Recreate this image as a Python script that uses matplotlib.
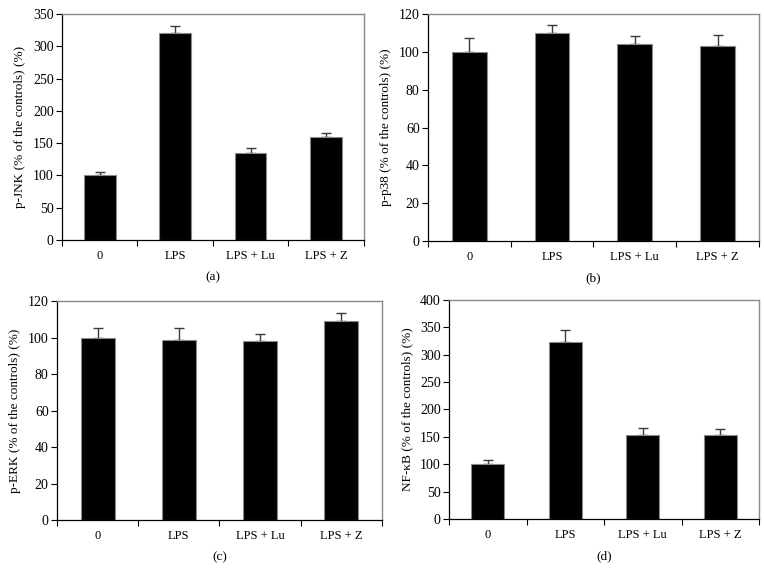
import matplotlib
matplotlib.use("Agg")
import matplotlib.pyplot as plt
import numpy as np

plt.rcParams['font.family'] = ['Liberation Serif', 'DejaVu Serif']

groups = ['0', 'LPS', 'LPS + Lu', 'LPS + Z']

jnk = [100, 320, 135, 160]
jnk_err = [5, 12, 8, 6]
p38 = [100, 110, 104, 103]
p38_err = [7.5, 4, 4.5, 6]
erk = [100, 98.5, 98, 109]
erk_err = [5, 6.5, 4, 4.5]
nfkb = [100, 323, 153, 153]
nfkb_err = [7, 22, 14, 12]

panels = [
    # values, errors, ylabel, ymax, ystep, tag, axes rect
    (jnk, jnk_err, 'p-JNK (% of the controls) (%)', 350, 50, '(a)',
     [0.0812, 0.5782, 0.395, 0.3972]),
    (p38, p38_err, 'p-p38 (% of the controls) (%)', 120, 20, '(b)',
     [0.5602, 0.5764, 0.4332, 0.399]),
    (erk, erk_err, 'p-ERK (% of the controls) (%)', 120, 20, '(c)',
     [0.0746, 0.0861, 0.4254, 0.3849]),
    (nfkb, nfkb_err, 'NF-κB (% of the controls) (%)', 400, 50, '(d)',
     [0.5877, 0.0879, 0.4058, 0.3849]),
]

fig = plt.figure(figsize=(7.64, 5.69), dpi=100)

for vals, errs, ylab, ymax, step, tag, rect in panels:
    ax = fig.add_axes(rect)
    x = np.arange(len(groups))
    ax.bar(x, vals, width=0.42, color='black', edgecolor='#8a8a8a',
           linewidth=0.8, zorder=2)
    ax.errorbar(x, vals, yerr=[np.zeros(len(errs)), errs], fmt='none',
                ecolor='#3a3a3a', elinewidth=1, capsize=3.6, capthick=1,
                zorder=1)
    ax.set_xlim(-0.5, 3.5)
    ax.set_ylim(0, ymax)
    ax.set_yticks(np.arange(0, ymax + 1, step))
    ax.set_xticks(x)
    ax.set_xticklabels(groups)
    ax.set_xticks([-0.5, 0.5, 1.5, 2.5, 3.5], minor=True)
    ax.tick_params(axis='x', which='major', length=0, pad=7, labelsize=9)
    ax.tick_params(axis='x', which='minor', length=4, width=0.8,
                   direction='out')
    ax.tick_params(axis='y', length=4, width=0.8, direction='out',
                   labelsize=10, pad=2)
    ax.set_ylabel(ylab, fontsize=9.5, labelpad=5)
    for s in ['top', 'right']:
        ax.spines[s].set_color('#8a8a8a')
        ax.spines[s].set_linewidth(1)
    for s in ['left', 'bottom']:
        ax.spines[s].set_color('black')
        ax.spines[s].set_linewidth(0.9)
    ax.text(0.5, -37 / (rect[3] * 569), tag, transform=ax.transAxes,
            ha='center', va='center', fontsize=9.5)

fig.savefig('out.png', dpi=100)
